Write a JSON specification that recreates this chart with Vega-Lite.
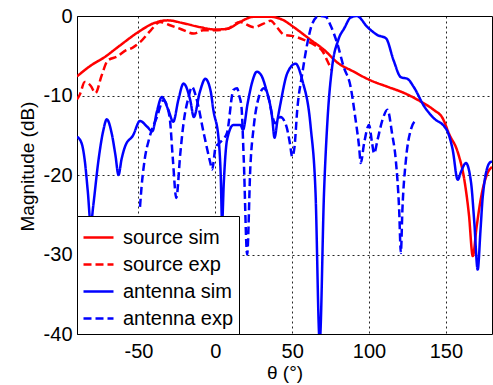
{
  "$schema": "https://vega.github.io/schema/vega-lite/v6.json",
  "width": 415,
  "height": 318,
  "autosize": "none",
  "padding": {"left": 77, "top": 16, "right": 1, "bottom": 51},
  "background": "white",
  "config": {
    "font": "Liberation Sans",
    "view": {"stroke": "black", "strokeWidth": 1},
    "axis": {
      "domain": false,
      "ticks": false,
      "grid": true,
      "gridColor": "black",
      "gridDash": [2, 3],
      "gridOpacity": 0.85,
      "gridWidth": 1,
      "labelFont": "Liberation Sans",
      "labelFontSize": 20,
      "labelColor": "black",
      "labelExpr": "'' + datum.value",
      "titleFont": "Liberation Sans",
      "titleFontSize": 19,
      "titleFontWeight": "normal",
      "titleColor": "black"
    },
    "legend": {
      "title": null,
      "orient": "bottom-left",
      "offset": 0,
      "fillColor": "white",
      "strokeColor": "black",
      "padding": 5,
      "symbolType": "stroke",
      "symbolSize": 900,
      "symbolStrokeWidth": 2.5,
      "labelFont": "Liberation Sans",
      "labelFontSize": 20,
      "labelColor": "black",
      "labelOffset": 8,
      "rowPadding": 0
    }
  },
  "data": {
    "values": [
      {"s": "source sim", "theta": -90, "mag": -7.6},
      {"s": "source sim", "theta": -80, "mag": -6.1},
      {"s": "source sim", "theta": -73, "mag": -5.3},
      {"s": "source sim", "theta": -62, "mag": -3.7},
      {"s": "source sim", "theta": -50, "mag": -2.0},
      {"s": "source sim", "theta": -40, "mag": -0.9},
      {"s": "source sim", "theta": -31, "mag": -0.55},
      {"s": "source sim", "theta": -21, "mag": -0.9},
      {"s": "source sim", "theta": -10, "mag": -1.4},
      {"s": "source sim", "theta": 0, "mag": -1.7},
      {"s": "source sim", "theta": 8, "mag": -1.6},
      {"s": "source sim", "theta": 16, "mag": -0.75},
      {"s": "source sim", "theta": 25, "mag": -0.1},
      {"s": "source sim", "theta": 36, "mag": -0.1},
      {"s": "source sim", "theta": 44, "mag": -0.5},
      {"s": "source sim", "theta": 51, "mag": -1.4},
      {"s": "source sim", "theta": 62, "mag": -3.0},
      {"s": "source sim", "theta": 71, "mag": -4.3},
      {"s": "source sim", "theta": 79, "mag": -5.8},
      {"s": "source sim", "theta": 90, "mag": -7.0},
      {"s": "source sim", "theta": 101, "mag": -8.1},
      {"s": "source sim", "theta": 112, "mag": -8.9},
      {"s": "source sim", "theta": 123, "mag": -9.7},
      {"s": "source sim", "theta": 134, "mag": -10.8},
      {"s": "source sim", "theta": 142, "mag": -11.8},
      {"s": "source sim", "theta": 148, "mag": -12.9},
      {"s": "source sim", "theta": 152, "mag": -14.8},
      {"s": "source sim", "theta": 158, "mag": -17.3},
      {"s": "source sim", "theta": 162, "mag": -20.6},
      {"s": "source sim", "theta": 165, "mag": -25},
      {"s": "source sim", "theta": 167.5, "mag": -30.2},
      {"s": "source sim", "theta": 170, "mag": -26.5},
      {"s": "source sim", "theta": 173, "mag": -22.7},
      {"s": "source sim", "theta": 177, "mag": -19.8},
      {"s": "source sim", "theta": 180, "mag": -19},

      {"s": "source exp", "theta": -90, "mag": -10.5},
      {"s": "source exp", "theta": -88, "mag": -9.8},
      {"s": "source exp", "theta": -85, "mag": -8.3},
      {"s": "source exp", "theta": -81, "mag": -8.8},
      {"s": "source exp", "theta": -78, "mag": -9.7},
      {"s": "source exp", "theta": -74, "mag": -7.5},
      {"s": "source exp", "theta": -70, "mag": -5.6},
      {"s": "source exp", "theta": -64, "mag": -5.1},
      {"s": "source exp", "theta": -58, "mag": -4.3},
      {"s": "source exp", "theta": -54, "mag": -4.0},
      {"s": "source exp", "theta": -49, "mag": -3.3},
      {"s": "source exp", "theta": -42, "mag": -1.8},
      {"s": "source exp", "theta": -36, "mag": -0.75},
      {"s": "source exp", "theta": -29, "mag": -1.2},
      {"s": "source exp", "theta": -23, "mag": -1.6},
      {"s": "source exp", "theta": -14, "mag": -2.2},
      {"s": "source exp", "theta": -8, "mag": -1.8},
      {"s": "source exp", "theta": -1, "mag": -1.8},
      {"s": "source exp", "theta": 8, "mag": -1.6},
      {"s": "source exp", "theta": 16, "mag": -0.75},
      {"s": "source exp", "theta": 25, "mag": -1.4},
      {"s": "source exp", "theta": 31, "mag": -1.0},
      {"s": "source exp", "theta": 36, "mag": -0.6},
      {"s": "source exp", "theta": 40, "mag": -1.4},
      {"s": "source exp", "theta": 45, "mag": -2.4},
      {"s": "source exp", "theta": 50, "mag": -2.5},
      {"s": "source exp", "theta": 57.6, "mag": -3.0},
      {"s": "source exp", "theta": 65, "mag": -3.7},
      {"s": "source exp", "theta": 70, "mag": -4.5},
      {"s": "source exp", "theta": 73, "mag": -5.7},
      {"s": "source exp", "theta": 76, "mag": -6.9},

      {"s": "antenna sim", "theta": -90, "mag": -15.2},
      {"s": "antenna sim", "theta": -87, "mag": -16},
      {"s": "antenna sim", "theta": -85, "mag": -18.1},
      {"s": "antenna sim", "theta": -83, "mag": -22},
      {"s": "antenna sim", "theta": -81, "mag": -26.3},
      {"s": "antenna sim", "theta": -79.5, "mag": -24},
      {"s": "antenna sim", "theta": -76, "mag": -18.1},
      {"s": "antenna sim", "theta": -73, "mag": -14.5},
      {"s": "antenna sim", "theta": -70.6, "mag": -13.0},
      {"s": "antenna sim", "theta": -67.5, "mag": -14.7},
      {"s": "antenna sim", "theta": -65, "mag": -17.5},
      {"s": "antenna sim", "theta": -63, "mag": -20},
      {"s": "antenna sim", "theta": -61, "mag": -18},
      {"s": "antenna sim", "theta": -58.7, "mag": -16.4},
      {"s": "antenna sim", "theta": -53.5, "mag": -15},
      {"s": "antenna sim", "theta": -49, "mag": -13.2},
      {"s": "antenna sim", "theta": -44.5, "mag": -13.9},
      {"s": "antenna sim", "theta": -41, "mag": -14.5},
      {"s": "antenna sim", "theta": -38, "mag": -12},
      {"s": "antenna sim", "theta": -34.8, "mag": -10.2},
      {"s": "antenna sim", "theta": -30.6, "mag": -11.8},
      {"s": "antenna sim", "theta": -27.4, "mag": -13.3},
      {"s": "antenna sim", "theta": -24, "mag": -10.5},
      {"s": "antenna sim", "theta": -20.7, "mag": -8.5},
      {"s": "antenna sim", "theta": -16.3, "mag": -10.6},
      {"s": "antenna sim", "theta": -14, "mag": -12.7},
      {"s": "antenna sim", "theta": -10, "mag": -9.5},
      {"s": "antenna sim", "theta": -6.5, "mag": -7.9},
      {"s": "antenna sim", "theta": -3, "mag": -9.5},
      {"s": "antenna sim", "theta": -1.3, "mag": -11.8},
      {"s": "antenna sim", "theta": 2.2, "mag": -15.6},
      {"s": "antenna sim", "theta": 3.5, "mag": -20},
      {"s": "antenna sim", "theta": 4.4, "mag": -26},
      {"s": "antenna sim", "theta": 5.5, "mag": -21},
      {"s": "antenna sim", "theta": 7.6, "mag": -15.6},
      {"s": "antenna sim", "theta": 11.8, "mag": -13.7},
      {"s": "antenna sim", "theta": 16.3, "mag": -13.7},
      {"s": "antenna sim", "theta": 18, "mag": -14.3},
      {"s": "antenna sim", "theta": 21, "mag": -11},
      {"s": "antenna sim", "theta": 24, "mag": -8.3},
      {"s": "antenna sim", "theta": 27, "mag": -7.0},
      {"s": "antenna sim", "theta": 30, "mag": -7.5},
      {"s": "antenna sim", "theta": 32.6, "mag": -8.9},
      {"s": "antenna sim", "theta": 37, "mag": -12.8},
      {"s": "antenna sim", "theta": 38.5, "mag": -15.3},
      {"s": "antenna sim", "theta": 40.5, "mag": -13},
      {"s": "antenna sim", "theta": 42.4, "mag": -11},
      {"s": "antenna sim", "theta": 46.8, "mag": -7.2},
      {"s": "antenna sim", "theta": 52.2, "mag": -6.0},
      {"s": "antenna sim", "theta": 56.6, "mag": -8.1},
      {"s": "antenna sim", "theta": 62, "mag": -13.9},
      {"s": "antenna sim", "theta": 65.2, "mag": -22.3},
      {"s": "antenna sim", "theta": 67.9, "mag": -41},
      {"s": "antenna sim", "theta": 70.7, "mag": -22.3},
      {"s": "antenna sim", "theta": 73, "mag": -13},
      {"s": "antenna sim", "theta": 76, "mag": -6.4},
      {"s": "antenna sim", "theta": 80, "mag": -3},
      {"s": "antenna sim", "theta": 84, "mag": -1.5},
      {"s": "antenna sim", "theta": 88, "mag": -0.2},
      {"s": "antenna sim", "theta": 92, "mag": 0},
      {"s": "antenna sim", "theta": 99, "mag": -1.4},
      {"s": "antenna sim", "theta": 105.5, "mag": -2.4},
      {"s": "antenna sim", "theta": 111, "mag": -2.8},
      {"s": "antenna sim", "theta": 116, "mag": -5.6},
      {"s": "antenna sim", "theta": 120.7, "mag": -7.7},
      {"s": "antenna sim", "theta": 125, "mag": -7.9},
      {"s": "antenna sim", "theta": 129, "mag": -8.9},
      {"s": "antenna sim", "theta": 136, "mag": -11.4},
      {"s": "antenna sim", "theta": 142.4, "mag": -12.9},
      {"s": "antenna sim", "theta": 149, "mag": -13.9},
      {"s": "antenna sim", "theta": 151, "mag": -14.5},
      {"s": "antenna sim", "theta": 154.4, "mag": -16.8},
      {"s": "antenna sim", "theta": 157.7, "mag": -20.6},
      {"s": "antenna sim", "theta": 160, "mag": -19.5},
      {"s": "antenna sim", "theta": 163, "mag": -18.5},
      {"s": "antenna sim", "theta": 166.4, "mag": -21},
      {"s": "antenna sim", "theta": 168.5, "mag": -26},
      {"s": "antenna sim", "theta": 170.7, "mag": -31.9},
      {"s": "antenna sim", "theta": 172.5, "mag": -27},
      {"s": "antenna sim", "theta": 174, "mag": -22.7},
      {"s": "antenna sim", "theta": 178.3, "mag": -18.5},
      {"s": "antenna sim", "theta": 180, "mag": -18.3},

      {"s": "antenna exp", "theta": -49, "mag": -24},
      {"s": "antenna exp", "theta": -48, "mag": -21.5},
      {"s": "antenna exp", "theta": -46, "mag": -18.1},
      {"s": "antenna exp", "theta": -43, "mag": -15.4},
      {"s": "antenna exp", "theta": -38, "mag": -12.7},
      {"s": "antenna exp", "theta": -33.7, "mag": -10.6},
      {"s": "antenna exp", "theta": -31, "mag": -11.6},
      {"s": "antenna exp", "theta": -29.5, "mag": -13.1},
      {"s": "antenna exp", "theta": -27.6, "mag": -18.1},
      {"s": "antenna exp", "theta": -25.4, "mag": -22.9},
      {"s": "antenna exp", "theta": -22.8, "mag": -17.3},
      {"s": "antenna exp", "theta": -20.7, "mag": -13.5},
      {"s": "antenna exp", "theta": -17.4, "mag": -10.2},
      {"s": "antenna exp", "theta": -15.2, "mag": -8.9},
      {"s": "antenna exp", "theta": -12.5, "mag": -10.2},
      {"s": "antenna exp", "theta": -7.6, "mag": -14.7},
      {"s": "antenna exp", "theta": -3.2, "mag": -18.5},
      {"s": "antenna exp", "theta": -2.1, "mag": -19.3},
      {"s": "antenna exp", "theta": 0.2, "mag": -16.5},
      {"s": "antenna exp", "theta": 2.5, "mag": -16},
      {"s": "antenna exp", "theta": 5, "mag": -15.5},
      {"s": "antenna exp", "theta": 7.6, "mag": -14.7},
      {"s": "antenna exp", "theta": 11.8, "mag": -9.3},
      {"s": "antenna exp", "theta": 14.2, "mag": -9.1},
      {"s": "antenna exp", "theta": 15.5, "mag": -10},
      {"s": "antenna exp", "theta": 17, "mag": -11.4},
      {"s": "antenna exp", "theta": 18.5, "mag": -18.1},
      {"s": "antenna exp", "theta": 20.7, "mag": -30},
      {"s": "antenna exp", "theta": 22.8, "mag": -18.9},
      {"s": "antenna exp", "theta": 25, "mag": -13.9},
      {"s": "antenna exp", "theta": 28.3, "mag": -10.2},
      {"s": "antenna exp", "theta": 31.6, "mag": -9.1},
      {"s": "antenna exp", "theta": 35, "mag": -10.6},
      {"s": "antenna exp", "theta": 37, "mag": -12.5},
      {"s": "antenna exp", "theta": 39, "mag": -13.5},
      {"s": "antenna exp", "theta": 42.4, "mag": -12.7},
      {"s": "antenna exp", "theta": 46.3, "mag": -13.9},
      {"s": "antenna exp", "theta": 48.5, "mag": -16},
      {"s": "antenna exp", "theta": 50, "mag": -17.7},
      {"s": "antenna exp", "theta": 51.5, "mag": -16.5},
      {"s": "antenna exp", "theta": 53.3, "mag": -11.8},
      {"s": "antenna exp", "theta": 56.6, "mag": -7.2},
      {"s": "antenna exp", "theta": 59.8, "mag": -3.5},
      {"s": "antenna exp", "theta": 63, "mag": -1.0},
      {"s": "antenna exp", "theta": 67.4, "mag": 0},
      {"s": "antenna exp", "theta": 71.8, "mag": -0.1},
      {"s": "antenna exp", "theta": 75, "mag": -1.2},
      {"s": "antenna exp", "theta": 79.4, "mag": -3.5},
      {"s": "antenna exp", "theta": 83.5, "mag": -6.4},
      {"s": "antenna exp", "theta": 88, "mag": -8.9},
      {"s": "antenna exp", "theta": 91, "mag": -12.7},
      {"s": "antenna exp", "theta": 93.5, "mag": -16.4},
      {"s": "antenna exp", "theta": 94.6, "mag": -18.5},
      {"s": "antenna exp", "theta": 96.8, "mag": -16},
      {"s": "antenna exp", "theta": 100, "mag": -13.7},
      {"s": "antenna exp", "theta": 102, "mag": -16},
      {"s": "antenna exp", "theta": 103.3, "mag": -17.3},
      {"s": "antenna exp", "theta": 105.5, "mag": -15.6},
      {"s": "antenna exp", "theta": 108.7, "mag": -13.1},
      {"s": "antenna exp", "theta": 112, "mag": -11.8},
      {"s": "antenna exp", "theta": 115, "mag": -14.8},
      {"s": "antenna exp", "theta": 117.4, "mag": -18.1},
      {"s": "antenna exp", "theta": 119.6, "mag": -24.4},
      {"s": "antenna exp", "theta": 120.7, "mag": -29.8},
      {"s": "antenna exp", "theta": 121.7, "mag": -24.4},
      {"s": "antenna exp", "theta": 124, "mag": -18.1},
      {"s": "antenna exp", "theta": 127.2, "mag": -14.3},
      {"s": "antenna exp", "theta": 130.5, "mag": -13.1}
    ]
  },
  "mark": {"type": "line", "strokeWidth": 2.5, "clip": true, "interpolate": "monotone"},
  "encoding": {
    "x": {
      "field": "theta",
      "type": "quantitative",
      "scale": {"domain": [-90, 180], "nice": false, "zero": false},
      "axis": {"values": [-50, 0, 50, 100, 150], "title": "θ (°)", "labelPadding": 7, "titlePadding": 2}
    },
    "y": {
      "field": "mag",
      "type": "quantitative",
      "scale": {"domain": [-40, 0], "nice": false},
      "axis": {"values": [-40, -30, -20, -10, 0], "title": "Magnitude (dB)", "labelPadding": 5, "titlePadding": 6, "titleY": 150}
    },
    "color": {
      "field": "s",
      "type": "nominal",
      "sort": ["source sim", "source exp", "antenna sim", "antenna exp"],
      "scale": {"domain": ["source sim", "source exp", "antenna sim", "antenna exp"], "range": ["#ff0000", "#ff0000", "#0000ff", "#0000ff"]}
    },
    "strokeDash": {
      "field": "s",
      "type": "nominal",
      "sort": ["source sim", "source exp", "antenna sim", "antenna exp"],
      "scale": {"domain": ["source sim", "source exp", "antenna sim", "antenna exp"], "range": [[1, 0], [8, 4], [1, 0], [8, 4]]}
    }
  }
}
